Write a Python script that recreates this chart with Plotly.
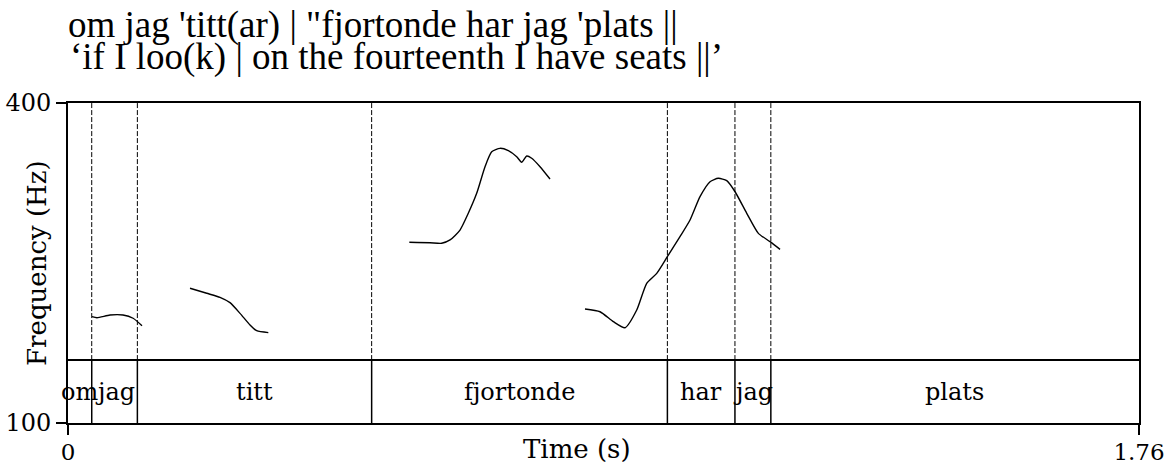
import plotly.graph_objects as go

# ---- data ----
title_line1 = "om jag 'titt(ar) | \"fjortonde har jag 'plats ||"
title_line2 = "\u2018if I loo(k) | on the fourteenth I have seats ||\u2019"

words = ["om", "jag", "titt", "fjortonde", "har", "jag", "plats"]
boundaries = [0.0, 0.039, 0.114, 0.499, 0.985, 1.096, 1.155, 1.76]

x_ticks = [0, 1.76]
x_ticktext = ["0", "1.76"]
y_ticks = [100, 400]
y_ticktext = ["100", "400"]

seg1_t = [0.0394, 0.0476, 0.069, 0.0904, 0.107, 0.1216]
seg1_f = [199.7, 198.7, 201.2, 201.2, 198.2, 191.2]

seg2_t = [0.2005, 0.228, 0.2498, 0.2662, 0.2827, 0.2991, 0.3101, 0.3292]
seg2_f = [226.3, 221.6, 217.8, 212.8, 202.8, 191.9, 186.5, 184.7]

seg3_t = [0.5609, 0.5949, 0.6141, 0.6278, 0.6442, 0.6578, 0.6716, 0.6853, 0.6963,
          0.7099, 0.7236, 0.7374, 0.7456, 0.7538, 0.762, 0.7757, 0.7921]
seg3_f = [269.4, 269.0, 268.5, 271.6, 280.9, 296.6, 315.3, 340.3, 354.3,
          357.5, 355.3, 349.6, 344.4, 350.3, 348.2, 340.3, 328.7]

seg4_t = [0.8496, 0.8743, 0.8961, 0.9154, 0.9346, 0.951, 0.9675, 0.9849, 1.0057,
          1.0222, 1.0386, 1.0551, 1.0687, 1.0825, 1.0962, 1.1154, 1.1345, 1.1537, 1.1701]
seg4_f = [206.9, 204.3, 195.0, 189.3, 205.9, 231.0, 240.3, 255.9, 274.7,
          290.3, 312.2, 326.2, 329.4, 327.2, 316.8, 296.6, 277.8, 270.0, 262.8]

Y_MIN, Y_MAX = 100, 400
TIER_TOP = 159  # frequency-axis value where the text tier begins

# ---- figure ----
fig = go.Figure()
for ts, fs in [(seg1_t, seg1_f), (seg2_t, seg2_f), (seg3_t, seg3_f), (seg4_t, seg4_f)]:
    fig.add_trace(go.Scatter(x=ts, y=fs, mode="lines",
                             line=dict(color="black", width=1.4, shape="spline", smoothing=0.6),
                             showlegend=False, hoverinfo="skip"))

shapes = []
# tier separator
shapes.append(dict(type="line", xref="x", yref="y", x0=boundaries[0], x1=boundaries[-1],
                   y0=TIER_TOP, y1=TIER_TOP, line=dict(color="black", width=2)))
for b in boundaries[1:-1]:
    shapes.append(dict(type="line", xref="x", yref="y", x0=b, x1=b, y0=TIER_TOP, y1=Y_MAX,
                       line=dict(color="black", width=1, dash="5px,2px")))
    shapes.append(dict(type="line", xref="x", yref="y", x0=b, x1=b, y0=Y_MIN, y1=TIER_TOP,
                       line=dict(color="black", width=1.5)))

annotations = []
serif = "DejaVu Serif"
for i, w in enumerate(words):
    mid = (boundaries[i] + boundaries[i + 1]) / 2
    annotations.append(dict(x=mid, y=(Y_MIN + TIER_TOP) / 2, xref="x", yref="y", text=w,
                            showarrow=False, xanchor="center", yanchor="middle",
                            font=dict(family=serif, size=24, color="black")))

annotations.append(dict(x=-0.002, y=1.245, xref="paper", yref="paper", text=title_line1,
                        showarrow=False, xanchor="left", yanchor="middle",
                        font=dict(family="Liberation Serif", size=37, color="black")))
annotations.append(dict(x=0, y=1.145, xref="paper", yref="paper", text=title_line2,
                        showarrow=False, xanchor="left", yanchor="middle",
                        font=dict(family="Liberation Serif", size=37, color="black")))
annotations.append(dict(x=0.475, y=-0.08, xref="paper", yref="paper", text="Time (s)",
                        showarrow=False, xanchor="center", yanchor="middle",
                        font=dict(family=serif, size=26, color="black")))
annotations.append(dict(x=-0.029, y=0.5, xref="paper", yref="paper", text="Frequency (Hz)",
                        showarrow=False, xanchor="center", yanchor="middle", textangle=-90,
                        font=dict(family=serif, size=26, color="black")))

fig.update_layout(
    width=1173, height=465,
    margin=dict(l=68, r=34, t=103, b=42, autoexpand=False),
    paper_bgcolor="white", plot_bgcolor="white",
    shapes=shapes, annotations=annotations,
    xaxis=dict(range=[0, 1.76], tickvals=x_ticks, ticktext=x_ticktext, automargin=False,
               showgrid=False, zeroline=False, showline=True, mirror=True,
               linecolor="black", linewidth=2, ticks="outside", ticklen=10,
               tickwidth=2, tickcolor="black", ticklabelstandoff=-3,
               tickfont=dict(family=serif, size=23, color="black")),
    yaxis=dict(range=[Y_MIN, Y_MAX], tickvals=y_ticks, ticktext=y_ticktext, automargin=False,
               showgrid=False, zeroline=False, showline=True, mirror=True,
               linecolor="black", linewidth=2, ticks="outside", ticklen=10,
               tickwidth=2, tickcolor="black",
               tickfont=dict(family=serif, size=24, color="black")),
)

fig.write_html("out.html", config={"displayModeBar": False},
               post_script="document.body.style.margin='0';")
